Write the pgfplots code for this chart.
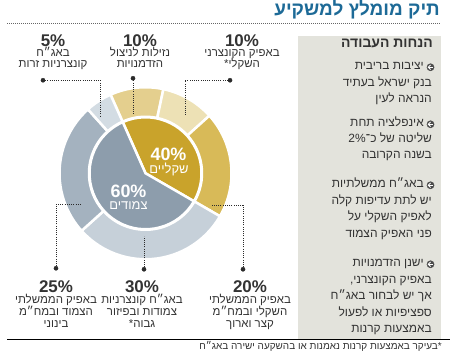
\documentclass[border=0pt]{standalone}
\usepackage{pgfplots}
\pgfplotsset{compat=1.18}
\usepackage{pgfplotstable}
\usepackage{fontspec}
\setmainfont{Liberation Sans}
\newfontfamily\heb[Script=Hebrew]{Liberation Sans}
\TeXXeTstate=1
\definecolor{ic0}{HTML}{C9A32B}
\definecolor{ic1}{HTML}{8D9DAC}
\definecolor{oc0}{HTML}{E4CF8E}
\definecolor{oc1}{HTML}{EDE1B5}
\definecolor{oc2}{HTML}{D8BA58}
\definecolor{oc3}{HTML}{C6D0D9}
\definecolor{oc4}{HTML}{A4B2BF}
\definecolor{oc5}{HTML}{D3DCE3}
\definecolor{panelbg}{HTML}{E3E3DC}
\definecolor{titleblue}{HTML}{1D6A97}
\definecolor{txt}{HTML}{333333}
\definecolor{lead}{HTML}{2B2B2B}
\definecolor{icon}{HTML}{4A4A4A}

\pgfplotstableread{
value
40
60
}\innerdata
\pgfplotstableread{
value
10
10
20
30
25
5
}\outerdata

\newcommand\cx{145.5}
\newcommand\cy{170}
\newcommand\hl[4]{\node[anchor=mid,inner sep=0,text=txt,font=\heb\fontsize{#3}{#3}\selectfont] at (axis cs:#1,#2) {#4};}
\newcommand\hr[4]{\node[anchor=mid east,inner sep=0,text=txt,font=\heb\fontsize{#3}{#3}\selectfont] at (axis cs:#1,#2) {#4};}
\newcommand\pct[3]{\node[anchor=center,inner sep=0,text=txt,font=\bfseries\fontsize{17}{17}\selectfont] at (axis cs:#1,#2) {#3};}

\begin{document}
\begin{tikzpicture}
\xdef\cum{114}
\foreach \i in {0,...,5}{%
  \pgfplotstablegetelem{\i}{value}\of\outerdata
  \pgfmathsetmacro\nxt{\cum-3.6*\pgfplotsretval}%
  \expandafter\xdef\csname oa\i\endcsname{\cum}%
  \expandafter\xdef\csname ob\i\endcsname{\nxt}%
  \xdef\cum{\nxt}%
}
\xdef\cum{114}
\foreach \i in {0,1}{%
  \pgfplotstablegetelem{\i}{value}\of\innerdata
  \pgfmathsetmacro\nxt{\cum-3.6*\pgfplotsretval}%
  \expandafter\xdef\csname ia\i\endcsname{\cum}%
  \expandafter\xdef\csname ib\i\endcsname{\nxt}%
  \xdef\cum{\nxt}%
}
\begin{axis}[set layers=standard, x=1bp, y=1bp, xmin=0, xmax=458, ymin=0, ymax=350, y dir=reverse,
  hide axis, clip=false, scale only axis]
\path (axis cs:0,0) rectangle (axis cs:458,350);
\begin{pgfonlayer}{axis background}
\fill[panelbg] (axis cs:298,33) rectangle (axis cs:441,336);
\draw[black, line width=0.8bp] (axis cs:7,336) -- (axis cs:450,336);
\draw[black!60, line width=0.9bp, dash pattern=on 0.9bp off 1.1bp] (axis cs:7,20) -- (axis cs:440,20);
\pgfplotsinvokeforeach{0,...,5}{%
 \path[fill=oc#1, draw=white, line width=2.5bp]
   (axis cs:{\cx+86*cos(\csname oa#1\endcsname)},{\cy-86*sin(\csname oa#1\endcsname)})
   arc[start angle=\csname oa#1\endcsname, end angle=\csname ob#1\endcsname, radius=86bp]
   -- (axis cs:{\cx+56.5*cos(\csname ob#1\endcsname)},{\cy-56.5*sin(\csname ob#1\endcsname)})
   arc[start angle=\csname ob#1\endcsname, end angle=\csname oa#1\endcsname, radius=56.5bp]
   -- cycle;
}
\pgfplotsinvokeforeach{0,1}{%
 \path[fill=ic#1, draw=white, line width=2.5bp]
   (axis cs:\cx,\cy) -- (axis cs:{\cx+56*cos(\csname ia#1\endcsname)},{\cy-56*sin(\csname ia#1\endcsname)})
   arc[start angle=\csname ia#1\endcsname, end angle=\csname ib#1\endcsname, radius=56bp]
   -- cycle;
}
\end{pgfonlayer}
% leader lines
\addplot[lead, line width=0.9bp, dash pattern=on 0.9bp off 1.3bp] coordinates {(43,77) (100,77) (100,113)};
\addplot[lead, line width=0.9bp, dash pattern=on 0.9bp off 1.3bp] coordinates {(133,75) (133,112)};
\addplot[lead, line width=0.9bp, dash pattern=on 0.9bp off 1.3bp] coordinates {(230,77) (185,77) (185,113)};
\addplot[lead, line width=0.9bp, dash pattern=on 0.9bp off 1.3bp] coordinates {(243,266) (243,202) (212,202)};
\addplot[lead, line width=0.9bp, dash pattern=on 0.9bp off 1.3bp] coordinates {(144,266) (144,233)};
\addplot[lead, line width=0.9bp, dash pattern=on 0.9bp off 1.3bp] coordinates {(56,265) (56,201) (82,201)};
\addplot[only marks, mark=*, mark size=2.1, lead] coordinates {(43,77) (133,75) (230,77) (243,266) (144,266) (56,265)};
% icons
\addplot[only marks, mark=*, mark size=3.6bp, draw=icon, fill=icon] coordinates {(430.5,64) (430.5,121) (430.5,182) (430.5,261)};
\begin{pgfonlayer}{axis foreground}
\pgfplotsinvokeforeach{64,121,182,261}{%
  \draw[white,line width=0.9bp] (axis cs:433.2,#1) -- (axis cs:428.4,#1);
  \draw[white,line width=0.9bp] (axis cs:430.6,#1-2.3) -- (axis cs:428.2,#1) -- (axis cs:430.6,#1+2.3);
}
% inner labels
\node[anchor=center,inner sep=0,text=white,font=\bfseries\fontsize{18}{18}\selectfont] at (axis cs:168.5,151) {40\%};
\node[anchor=mid,inner sep=0,text=white,font=\heb\fontsize{13}{13}\selectfont] at (axis cs:169,168) {\beginR שקליים\endR};
\node[anchor=center,inner sep=0,text=white,font=\bfseries\fontsize{18}{18}\selectfont] at (axis cs:128.5,188) {60\%};
\node[anchor=mid,inner sep=0,text=white,font=\heb\fontsize{13}{13}\selectfont] at (axis cs:128.5,203.5) {\beginR צמודים\endR};
\end{pgfonlayer}
% title
\node[anchor=mid east,inner sep=0,text=titleblue,font=\heb\bfseries\fontsize{19}{19}\selectfont] at (axis cs:440,9.5) {\beginR תיק מומלץ למשקיע\endR};
% outer labels
\pct{53}{37}{5\%}
\hl{53}{50.5}{11.5}{\beginR באג״ח\endR}
\hl{53}{62}{11.5}{\beginR קונצרניות זרות\endR}
\pct{140}{37}{10\%}
\hl{140}{50.5}{11.5}{\beginR נזילות לניצול\endR}
\hl{140}{62}{11.5}{\beginR הזדמנויות\endR}
\pct{242}{37}{10\%}
\hl{242}{50.5}{11.5}{\beginR באפיק הקונצרני\endR}
\hl{242}{62}{11.5}{\beginR השקלי*\endR}
\pct{56}{283}{25\%}
\hl{56}{298}{11.5}{\beginR באפיק הממשלתי\endR}
\hl{56}{310}{11.5}{\beginR הצמוד ובמח״מ\endR}
\hl{56}{322}{11.5}{\beginR בינוני\endR}
\pct{142}{283}{30\%}
\hl{142}{298}{11.5}{\beginR באג״ח קונצרניות\endR}
\hl{142}{310}{11.5}{\beginR צמודות ובפיזור\endR}
\hl{142}{322}{11.5}{\beginR גבוה*\endR}
\pct{250}{283}{20\%}
\hl{250}{298}{11.5}{\beginR באפיק הממשלתי\endR}
\hl{250}{310}{11.5}{\beginR השקלי ובמח״מ\endR}
\hl{250}{322}{11.5}{\beginR קצר וארוך\endR}
% panel text
\node[anchor=mid east,inner sep=0,text=txt,font=\heb\bfseries\fontsize{14}{14}\selectfont] at (axis cs:433,42) {\beginR הנחות העבודה\endR};
\hr{424}{64}{12}{\beginR יציבות בריבית\endR}
\hr{432}{80.5}{12}{\beginR בנק ישראל בעתיד\endR}
\hr{432}{97}{12}{\beginR הנראה לעין\endR}
\hr{424}{121}{12}{\beginR אינפלציה תחת\endR}
\hr{432}{137}{12}{\beginR שליטה של כ־\beginL2\%\endL\endR}
\hr{432}{153}{12}{\beginR בשנה הקרובה\endR}
\hr{424}{182}{12}{\beginR באג״ח ממשלתיות\endR}
\hr{432}{198.5}{12}{\beginR יש לתת עדיפות קלה\endR}
\hr{432}{215}{12}{\beginR לאפיק השקלי על\endR}
\hr{432}{231.5}{12}{\beginR פני האפיק הצמוד\endR}
\hr{424}{261}{12}{\beginR ישנן הזדמנויות\endR}
\hr{432}{277.5}{12}{\beginR באפיק הקונצרני,\endR}
\hr{432}{294}{12}{\beginR אך יש לבחור באג״ח\endR}
\hr{432}{310.5}{12}{\beginR ספציפיות או לפעול\endR}
\hr{432}{327}{12}{\beginR באמצעות קרנות\endR}
% footnote
\hr{442}{343.5}{10}{\beginR *בעיקר באמצעות קרנות נאמנות או בהשקעה ישירה באג״ח\endR}
\end{axis}
\end{tikzpicture}
\end{document}
